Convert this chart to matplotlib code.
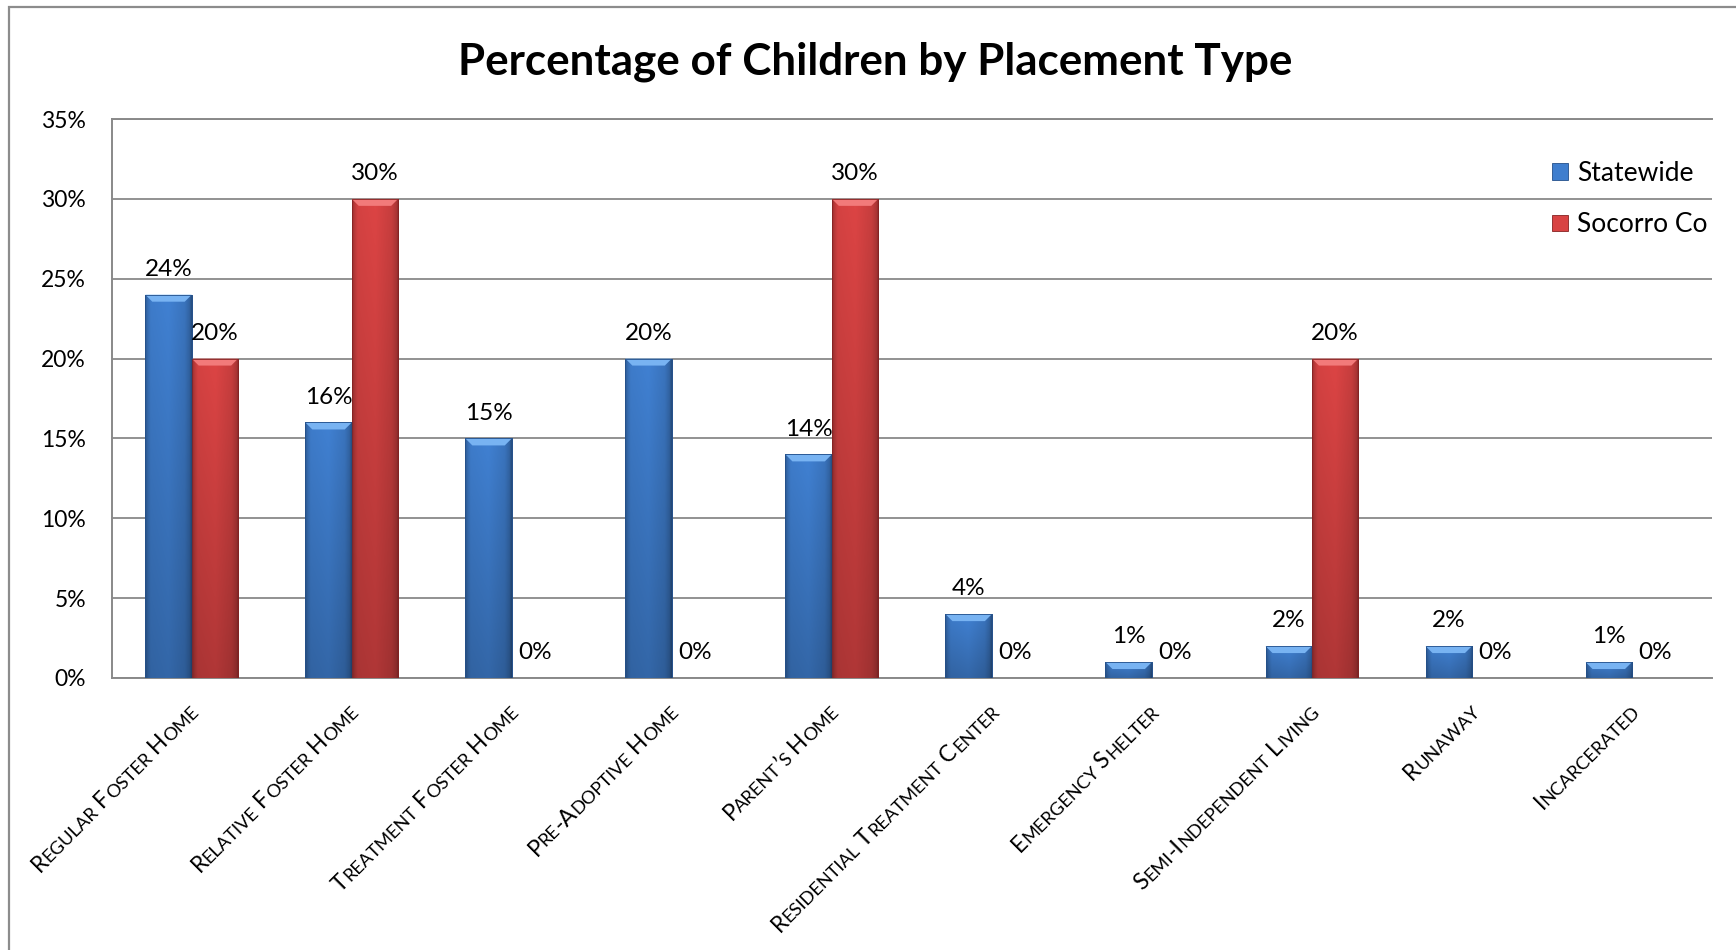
import numpy as np
import matplotlib
matplotlib.use("Agg")
import matplotlib.pyplot as plt
from matplotlib.patches import Polygon, Rectangle, Patch
from matplotlib.font_manager import FontProperties, findfont
from matplotlib.ft2font import FT2Font

try:
    from matplotlib.ft2font import LoadFlags
    NO_HINT = LoadFlags.NO_HINTING
except ImportError:  # older matplotlib
    from matplotlib.ft2font import LOAD_NO_HINTING as NO_HINT

# ---------------- data ----------------
categories = [
    "Regular Foster Home",
    "Relative Foster Home",
    "Treatment Foster Home",
    "Pre-Adoptive Home",
    "Parent\u2019s Home",
    "Residential Treatment Center",
    "Emergency Shelter",
    "Semi-Independent Living",
    "Runaway",
    "Incarcerated",
]
statewide = [24, 16, 15, 20, 14, 4, 1, 2, 2, 1]
socorro = [20, 30, 0, 0, 30, 0, 0, 20, 0, 0]
series_names = ["Statewide", "Socorro Co"]
yticks = [0, 5, 10, 15, 20, 25, 30, 35]
title = "Percentage of Children by Placement Type"

# ---------------- style ----------------
W, H, DPI = 1736, 950, 100
FONT = "Lato"
TICK = 16.5
VAL = 17.5
LEG = 19
CAP = 16.5
SMALL = CAP * 0.8
GRID = "#898989"

BLUE = np.array([0x3F, 0x7E, 0xCE]) / 255
RED = np.array([0xD8, 0x43, 0x43]) / 255
BLUE_TOP = "#78B3F2"
RED_TOP = "#F27A7A"
BLUE_EDGE = "#24508A"
RED_EDGE = "#862222"

fig = plt.figure(figsize=(W / DPI, H / DPI), dpi=DPI)
fig.patch.set_facecolor("white")

# chart border (left and top edges visible)
fig.add_artist(Rectangle((9 / W, -0.1), 1.2, 1.1 - 7 / H,
                         transform=fig.transFigure, fill=False,
                         ec="#8C8C8C", lw=1.6))

ax = fig.add_axes([111.7 / W, 1 - 678 / H, (1712 - 111.7) / W, (678 - 119) / H])

x = np.arange(len(categories))
bw = 0.29
b1 = ax.bar(x - bw / 2, statewide, bw, color=BLUE, edgecolor=BLUE_EDGE, lw=0.6, zorder=3)
b2 = ax.bar(x + bw / 2, socorro, bw, color=RED, edgecolor=RED_EDGE, lw=0.6, zorder=3)

ax.set_xlim(-0.5, len(categories) - 0.5)
ax.set_ylim(0, 35)

# pixel scale of the data axes
px_x = (1712 - 111.7) / len(categories)
px_y = (678 - 119) / 35.0


def shade_bar(bar, base, top_color):
    """Draw an Excel-like bevelled gradient over a bar."""
    x0, w, h = bar.get_x(), bar.get_width(), bar.get_height()
    if h <= 0:
        return
    hx = np.linspace(0, 1, 80)
    hfac = np.interp(hx, [0, 0.06, 0.12, 0.5, 0.85, 0.95, 1.0],
                     [0.72, 0.88, 0.98, 1.02, 0.92, 0.8, 0.62])
    vy = np.linspace(0, 1, 60)[:, None]          # 0 = top, 1 = bottom
    vfac = 1.0 - 0.2 * vy
    img = np.clip(base[None, None, :] * hfac[None, :, None] * vfac[:, :, None], 0, 1)
    im = ax.imshow(img, extent=(x0, x0 + w, 0, h), aspect="auto",
                   interpolation="bilinear", zorder=3.1)
    im.set_clip_path(bar)
    dy = min(7 / px_y, h * 0.45)
    dx = 7 / px_x
    ax.add_patch(Polygon([(x0, h), (x0 + w, h), (x0 + w - dx, h - dy), (x0 + dx, h - dy)],
                         closed=True, fc=top_color, ec="none", zorder=3.2))
    # outline drawn on top of the gradient
    ax.add_patch(Rectangle((x0, 0), w, h, fill=False, ec=bar.get_edgecolor(),
                           lw=0.6, zorder=3.3))


for bar in b1:
    shade_bar(bar, BLUE, BLUE_TOP)
for bar in b2:
    shade_bar(bar, RED, RED_TOP)

ax.set_xlim(-0.5, len(categories) - 0.5)
ax.set_ylim(0, 35)

# value labels
for bars, vals in ((b1, statewide), (b2, socorro)):
    for bar, v in zip(bars, vals):
        ax.annotate(f"{v}%", (bar.get_x() + bar.get_width() / 2, v),
                    xytext=(0, 13.5), textcoords="offset points",
                    ha="center", va="baseline", fontsize=VAL, family=FONT,
                    color="black", zorder=5)

# axes styling
ax.set_yticks(yticks)
ax.set_yticklabels([f"{t}%" for t in yticks], fontsize=TICK, family=FONT)
ax.tick_params(axis="y", length=0, pad=18.5)
ax.set_xticks([])
ax.yaxis.grid(True, color=GRID, lw=1.3)
ax.set_axisbelow(True)
for side in ("left", "bottom", "top"):
    ax.spines[side].set_color(GRID)
    ax.spines[side].set_linewidth(1.4)
ax.spines["right"].set_visible(False)

# legend
handles = [Patch(fc=BLUE, ec=BLUE_EDGE, lw=0.6), Patch(fc=RED, ec=RED_EDGE, lw=0.6)]
fig.legend(handles, series_names, loc="upper left",
           bbox_to_anchor=(1552 / W, 1 - 161 / H), bbox_transform=fig.transFigure,
           frameon=False, prop=FontProperties(family=FONT, size=LEG),
           handlelength=0.6, handleheight=0.6, handletextpad=0.35,
           labelspacing=1.0, borderpad=0, borderaxespad=0)

# title
fig.text(875 / W, 1 - 74 / H, title, ha="center", va="baseline",
         fontsize=31.7, fontweight="bold", family=FONT)

# small-caps category labels, rotated 45 degrees
ft = FT2Font(findfont(FontProperties(family=FONT)))


def glyph(ch, size):
    ft.set_size(size, DPI)
    return ft.load_char(ord(ch), flags=NO_HINT)


def runs_for(label):
    runs = []
    for ch in label:
        size = SMALL if ch.islower() else CAP
        if runs and runs[-1][1] == size:
            runs[-1][0] += ch.upper()
        else:
            runs.append([ch.upper(), size])
    return runs


ang = np.deg2rad(45)
u = np.array([np.cos(ang), np.sin(ang)])
v = np.array([-np.sin(ang), np.cos(ang)])
cap_px = 0.7165 * CAP * DPI / 72

for xi, label in zip(x, categories):
    runs = runs_for(label)
    offsets, total = [], 0.0
    for txt, size in runs:
        lsb = glyph(txt[0], size).horiBearingX / 64
        offsets.append(total + lsb)
        total += sum(glyph(c, size).linearHoriAdvance / 65536 for c in txt)
    px, py = ax.transData.transform((xi, 0))
    anchor = np.array([px - 4, py - 24])
    start = anchor - cap_px * v - total * u
    for (txt, size), off in zip(runs, offsets):
        p = start + off * u
        fig.text(p[0] / W, p[1] / H, txt, rotation=45, rotation_mode="anchor",
                 ha="left", va="baseline", fontsize=size, family=FONT)

fig.savefig("out.png", dpi=DPI, facecolor="white")
